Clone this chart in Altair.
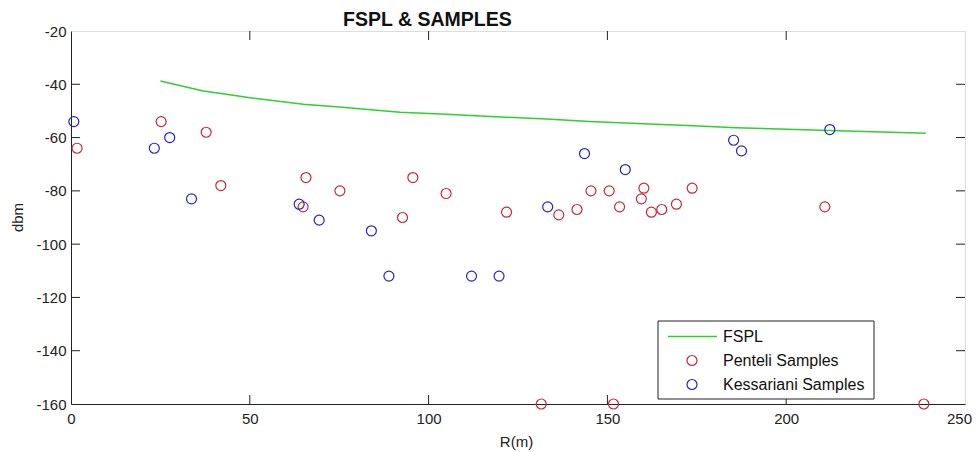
import altair as alt
import pandas as pd

# FSPL curve
fspl_r = [25, 37, 42, 51, 65, 75, 92, 105, 120, 133, 145, 160, 174, 186, 212, 239]
fspl_db = [-38.8, -42.5, -43.5, -45.2, -47.5, -48.5, -50.5, -51.2, -52.3, -53.0,
           -54.0, -54.8, -55.6, -56.3, -57.3, -58.4]

# Penteli samples
pent_r = [1.7, 25.2, 37.8, 41.9, 64.9, 65.7, 75.2, 92.7, 95.6, 104.9,
          121.8, 131.5, 136.4, 141.5, 145.4, 150.5, 151.7, 153.4, 159.5, 160.2,
          162.3, 165.2, 169.3, 173.7, 210.8, 238.5]
pent_db = [-64, -54, -58, -78, -86, -75, -80, -90, -75, -81,
           -88, -160, -89, -87, -80, -80, -160, -86, -83, -79,
           -88, -87, -85, -79, -86, -160]

# Kessariani samples
kess_r = [0.8, 23.3, 27.6, 33.7, 63.8, 69.4, 84.0, 88.9, 112.0, 119.7,
          133.3, 143.6, 155.0, 185.3, 187.5, 212.2]
kess_db = [-54, -64, -60, -83, -85, -91, -95, -112, -112, -112,
           -86, -66, -72, -61, -65, -57]

x_ticks = [0, 50, 100, 150, 200, 250]
y_ticks = [-160, -140, -120, -100, -80, -60, -40, -20]
legend_labels = ["FSPL", "Penteli Samples", "Kessariani Samples"]

GREEN = "#2fcf2f"
RED = "#c8283a"
BLUE = "#2424c0"
FONT = "Liberation Sans"
W, H = 894, 373

fspl = pd.DataFrame({"r": fspl_r, "db": fspl_db})
pent = pd.DataFrame({"r": pent_r, "db": pent_db})
kess = pd.DataFrame({"r": kess_r, "db": kess_db})
xt = pd.DataFrame({"t": x_ticks[1:-1]})
yt = pd.DataFrame({"t": y_ticks[1:-1]})

xscale = alt.Scale(domain=[0, 250], nice=False, zero=False)
yscale = alt.Scale(domain=[-160, -20], nice=False, zero=False)

xaxis = alt.Axis(values=x_ticks, tickSize=0, grid=False, labelPadding=7,
                 labelFontSize=15, labelColor="#222", labelFont=FONT,
                 labelExpr="'' + datum.value", labelFlush=False, labelOverlap=False,
                 labelOffset={"condition": {"test": "datum.value == 250", "value": -6},
                              "value": 0},
                 domainColor="#222", title="R(m)", titleFontSize=15,
                 titleFontWeight="normal", titleFont=FONT, titleColor="#222",
                 titleX=445, titleY=37, titleBaseline="middle", titleAlign="center")
yaxis = alt.Axis(values=y_ticks, tickSize=0, grid=False, labelPadding=5,
                 labelFontSize=15, labelColor="#222", labelFont=FONT,
                 labelExpr="'' + datum.value", labelFlush=False, labelOverlap=False,
                 domainColor="#222", title="dbm", titleFontSize=15,
                 titleFontWeight="normal", titleFont=FONT, titleColor="#222",
                 titleX=-54, titleY=186, titleAngle=270, titleBaseline="middle",
                 titleAlign="center")

line = alt.Chart(fspl).mark_line(color=GREEN, strokeWidth=1.5).encode(
    x=alt.X("r:Q", scale=xscale, axis=xaxis),
    y=alt.Y("db:Q", scale=yscale, axis=yaxis),
)
p1 = alt.Chart(pent).mark_point(shape="circle", filled=False, color=RED,
                                size=100, strokeWidth=1.2, opacity=1).encode(
    x=alt.X("r:Q", scale=xscale), y=alt.Y("db:Q", scale=yscale))
p2 = alt.Chart(kess).mark_point(shape="circle", filled=False, color=BLUE,
                                size=100, strokeWidth=1.2, opacity=1).encode(
    x=alt.X("r:Q", scale=xscale), y=alt.Y("db:Q", scale=yscale))

tick_style = dict(color="#222", strokeWidth=1)
tb = alt.Chart(xt).mark_rule(**tick_style).encode(
    x=alt.X("t:Q", scale=xscale), y=alt.value(H), y2=alt.value(H - 9))
tt = alt.Chart(xt).mark_rule(**tick_style).encode(
    x=alt.X("t:Q", scale=xscale), y=alt.value(0), y2=alt.value(9))
tl = alt.Chart(yt).mark_rule(**tick_style).encode(
    y=alt.Y("t:Q", scale=yscale), x=alt.value(0), x2=alt.value(9))
tr = alt.Chart(yt).mark_rule(**tick_style).encode(
    y=alt.Y("t:Q", scale=yscale), x=alt.value(W), x2=alt.value(W - 9))

# Legend
leg = pd.DataFrame({"label": legend_labels})
box = alt.Chart(leg.head(1)).mark_rect(fill="white", stroke="#222", strokeWidth=1).encode(
    x=alt.value(587), x2=alt.value(803), y=alt.value(290), y2=alt.value(368))
leg_line = alt.Chart(leg.head(1)).mark_rule(color=GREEN, strokeWidth=1.5).encode(
    x=alt.value(597), x2=alt.value(646), y=alt.value(305.5))
leg_p1 = alt.Chart(leg.iloc[[1]]).mark_point(shape="circle", filled=False, color=RED,
                                             size=100, strokeWidth=1.2, opacity=1).encode(
    x=alt.value(621), y=alt.value(329.5))
leg_p2 = alt.Chart(leg.iloc[[2]]).mark_point(shape="circle", filled=False, color=BLUE,
                                             size=100, strokeWidth=1.2, opacity=1).encode(
    x=alt.value(621), y=alt.value(353.5))
txt_style = dict(align="left", baseline="middle", fontSize=16, font=FONT, color="#111")
leg_t = [
    alt.Chart(leg.iloc[[i]]).mark_text(**txt_style).encode(
        x=alt.value(652), y=alt.value(yy), text="label:N")
    for i, yy in enumerate([305.5, 329.5, 353.5])
]

chart = alt.layer(line, p1, p2, tb, tt, tl, tr, box, leg_line, leg_p1, leg_p2, *leg_t).properties(
    width=W, height=H,
    title=alt.TitleParams("FSPL & SAMPLES", anchor="start", frame="group", dx=272, dy=11,
                          fontSize=19.5, fontWeight="bold", font=FONT, color="#111", offset=5),
    autosize=alt.AutoSizeParams(type="none"),
    padding={"left": 63, "top": 23, "right": 7, "bottom": 46},
).configure_view(stroke="#222", strokeWidth=1).configure(background="white")

chart.save("out.html", embed_options={"renderer": "svg", "actions": False})
